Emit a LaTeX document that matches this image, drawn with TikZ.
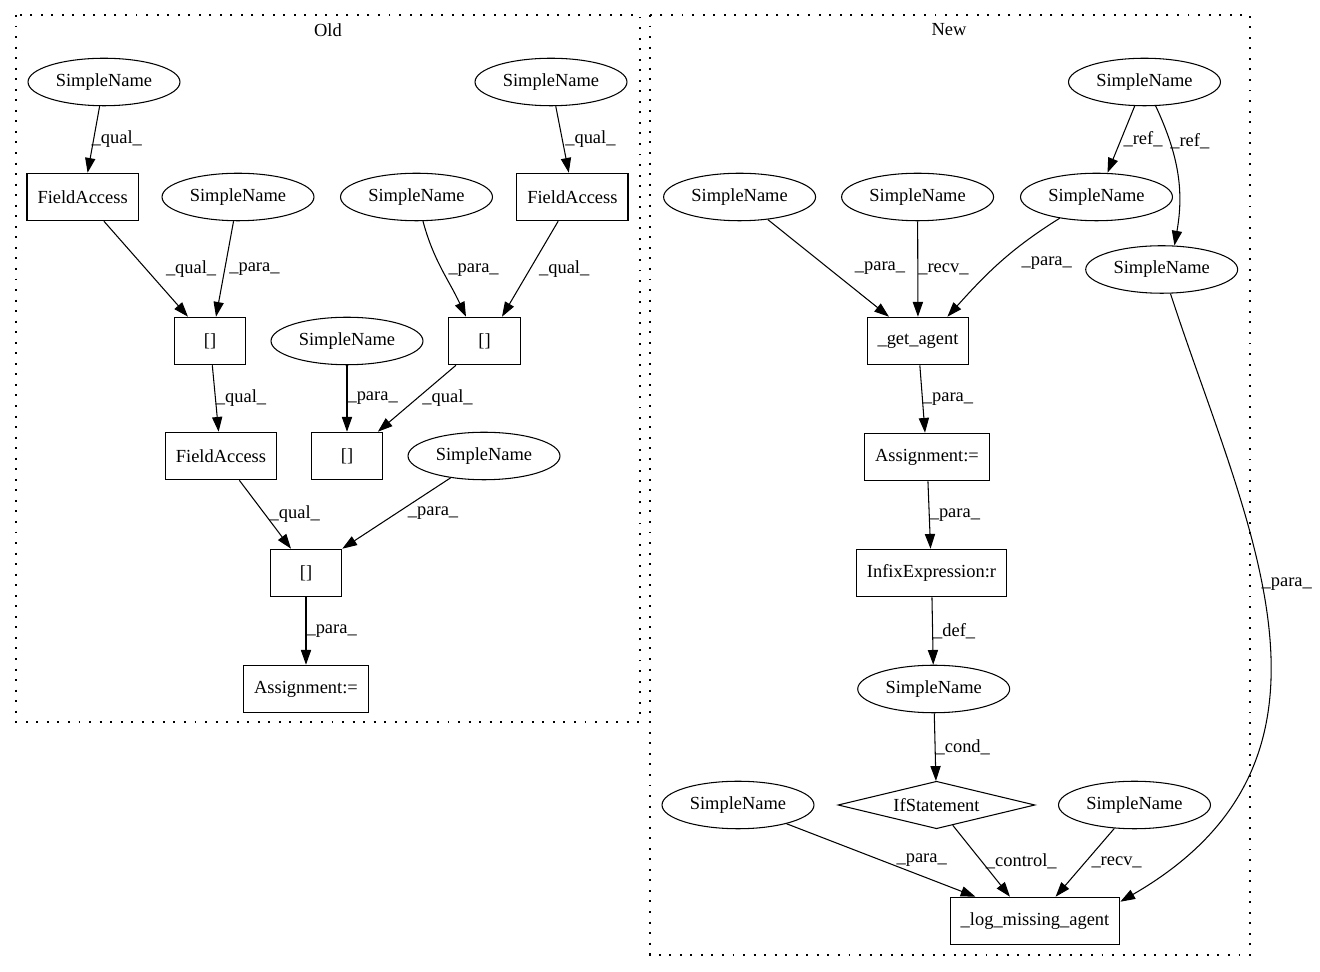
\documentclass[tikz,border=0pt]{standalone}
\usepackage{fontspec}
\setmainfont{Liberation Serif}
\usetikzlibrary{shapes.geometric}
\usetikzlibrary{arrows.meta}
\usetikzlibrary{calc}

\begin{document}
\begin{tikzpicture}[x = 0.02cm, y = 0.02cm,
  every node/.style = {font = \fontsize{10.5}{12}\selectfont},
  sname/.style = {draw, ellipse, line width = 0.6pt, minimum width = 3.04cm,
    minimum height = 0.95cm, inner sep = 1pt},
  box/.style = {draw, rectangle, line width = 0.6pt, minimum width = 1.43cm,
    minimum height = 0.95cm, inner xsep = 0.21cm},
  cond/.style = {draw, diamond, line width = 0.6pt, aspect = 4.15,
    minimum width = 3.94cm, minimum height = 0.95cm, inner sep = 0pt},
  link/.style = {-{Triangle[length = 8.4pt, width = 5.8pt]}, line width = 0.6pt},
  lbl/.style = {anchor = west, inner sep = 0pt},
  cluster/.style = {line width = 0.6pt, dash pattern = on 1.1pt off 4.9pt}]

  \useasboundingbox (0, 0) rectangle (1320, -972);

  % clusters
  \draw[cluster] (16, -15) rectangle (640, -722);
  \draw[cluster] (650, -15) rectangle (1250, -955);
  \node (old) at (328, -30) {Old};
  \node (new) at (949, -30) {New};

  % old
  \node[sname] (sa) at (104, -82) {SimpleName};
  \node[sname] (sd) at (551, -82) {SimpleName};
  \node[box] (fa1) at (82.6, -197) {FieldAccess};
  \node[sname] (sb) at (238, -197) {SimpleName};
  \node[sname] (sc) at (416.5, -197) {SimpleName};
  \node[box] (fa2) at (572.4, -197) {FieldAccess};
  \node[box] (br1) at (210, -341) {[]};
  \node[sname] (se) at (347, -341) {SimpleName};
  \node[box] (br2) at (484.5, -341) {[]};
  \node[box] (fa3) at (221, -456) {FieldAccess};
  \node[box] (br3) at (347, -456) {[]};
  \node[sname] (sf) at (484, -456) {SimpleName};
  \node[box] (br4) at (306, -573) {[]};
  \node[box] (asg1) at (306, -689) {Assignment:=};

  \draw[link] (sa) -- ($(fa1.north) + (5, 0)$)
  node[lbl, pos = 0.5, xshift = -0.05cm] {\_qual\_};
  \draw[link] (fa1) -- ($(br1.north) + (-22, 0)$)
  node[lbl, pos = 0.5, xshift = 0.39cm] {\_qual\_};
  \draw[link] (sb) -- ($(br1.north) + (6, 0)$)
  node[lbl, pos = 0.5, xshift = 0.08cm] {\_para\_};
  \draw[link] (sc) to[out = -75, in = 115]
  node[lbl, pos = 0.5, xshift = 0.12cm] {\_para\_} ($(br2.north) + (-18.5, 0)$);
  \draw[link] (fa2) -- ($(br2.north) + (17.5, 0)$)
  node[lbl, pos = 0.5, xshift = 0.17cm] {\_qual\_};
  \draw[link] (sd) -- ($(fa2.north) + (-3.6, 0)$)
  node[lbl, pos = 0.5, xshift = 0.05cm] {\_qual\_};
  \draw[link] (br1) -- ($(fa3.north) + (-2.4, 0)$)
  node[lbl, pos = 0.5] {\_qual\_};
  \draw[link] (se) -- (br3)
  node[lbl, pos = 0.5] {\_para\_};
  \draw[link] (br2) -- ($(br3.north east) + (-5.4, 0)$)
  node[lbl, pos = 0.5, xshift = 0.1cm] {\_qual\_};
  \draw[link] (fa3) -- ($(br4.north) + (-15, 0)$)
  node[lbl, pos = 0.5, xshift = 0.08cm] {\_qual\_};
  \draw[link] (sf) -- (br4.north east)
  node[lbl, pos = 0.5, xshift = 0.22cm] {\_para\_};
  \draw[link] (br4) -- (asg1)
  node[lbl, pos = 0.5] {\_para\_};

  % new
  \node[sname] (ntop) at (1144.5, -82) {SimpleName};
  \node[sname] (na) at (739.6, -197) {SimpleName};
  \node[sname] (nb) at (917.6, -197) {SimpleName};
  \node[sname] (nc) at (1096.5, -197) {SimpleName};
  \node[sname] (nd) at (1161.7, -269.5) {SimpleName};
  \node[box] (get) at (918, -341) {\_get\_agent};
  \node[box] (asg2) at (927, -457) {Assignment:=};
  \node[box] (infix) at (931.5, -573) {InfixExpression:r};
  \node[sname] (ne) at (933.7, -689) {SimpleName};
  \node[sname] (nf) at (738, -805) {SimpleName};
  \node[cond] (ifst) at (936.5, -805) {IfStatement};
  \node[sname] (ng) at (1134.5, -805) {SimpleName};
  \node[box] (log) at (1035, -921) {\_log\_missing\_agent};

  \draw[link] (ntop) -- ($(nc.north) + (11, 0)$)
  node[lbl, pos = 0.5, xshift = 0.04cm] {\_ref\_};
  \draw[link] (ntop.-65) to[out = -65, in = 80]
  node[lbl, pos = 0.25] {\_ref\_} (nd.62);
  \draw[link] (na) -- ($(get.north) + (-29, 0)$)
  node[lbl, pos = 0.5, xshift = 0.52cm] {\_para\_};
  \draw[link] (nb) -- (get)
  node[lbl, pos = 0.5] {\_recv\_};
  \draw[link] (nc.-150) to[out = -148, in = 48]
  node[lbl, pos = 0.5, xshift = 0.43cm] {\_para\_} ($(get.north) + (29.4, 0)$);
  \draw[link] (nd.-70) to[out = -72, in = 30, out distance = 4.8cm,
    in distance = 5.8cm]
  node[lbl, pos = 0.43] {\_para\_} ($(log.north east) + (0, -5)$);
  \draw[link] (get) -- ($(asg2.north) + (-2, 0)$)
  node[lbl, pos = 0.5] {\_para\_};
  \draw[link] (asg2) -- (infix)
  node[lbl, pos = 0.5] {\_para\_};
  \draw[link] (infix) -- (ne)
  node[lbl, pos = 0.5] {\_def\_};
  \draw[link] (ne) -- (ifst)
  node[lbl, pos = 0.5] {\_cond\_};
  \draw[link] (nf) -- ($(log.north) + (-59.5, 0)$)
  node[lbl, pos = 0.5, xshift = 0.3cm] {\_para\_};
  \draw[link] (ifst) -- ($(log.north) + (-25, 0)$)
  node[lbl, pos = 0.5, xshift = 0.08cm] {\_control\_};
  \draw[link] (ng) -- ($(log.north) + (20.6, 0)$)
  node[lbl, pos = 0.5, xshift = 0.12cm] {\_recv\_};
\end{tikzpicture}
\end{document}
